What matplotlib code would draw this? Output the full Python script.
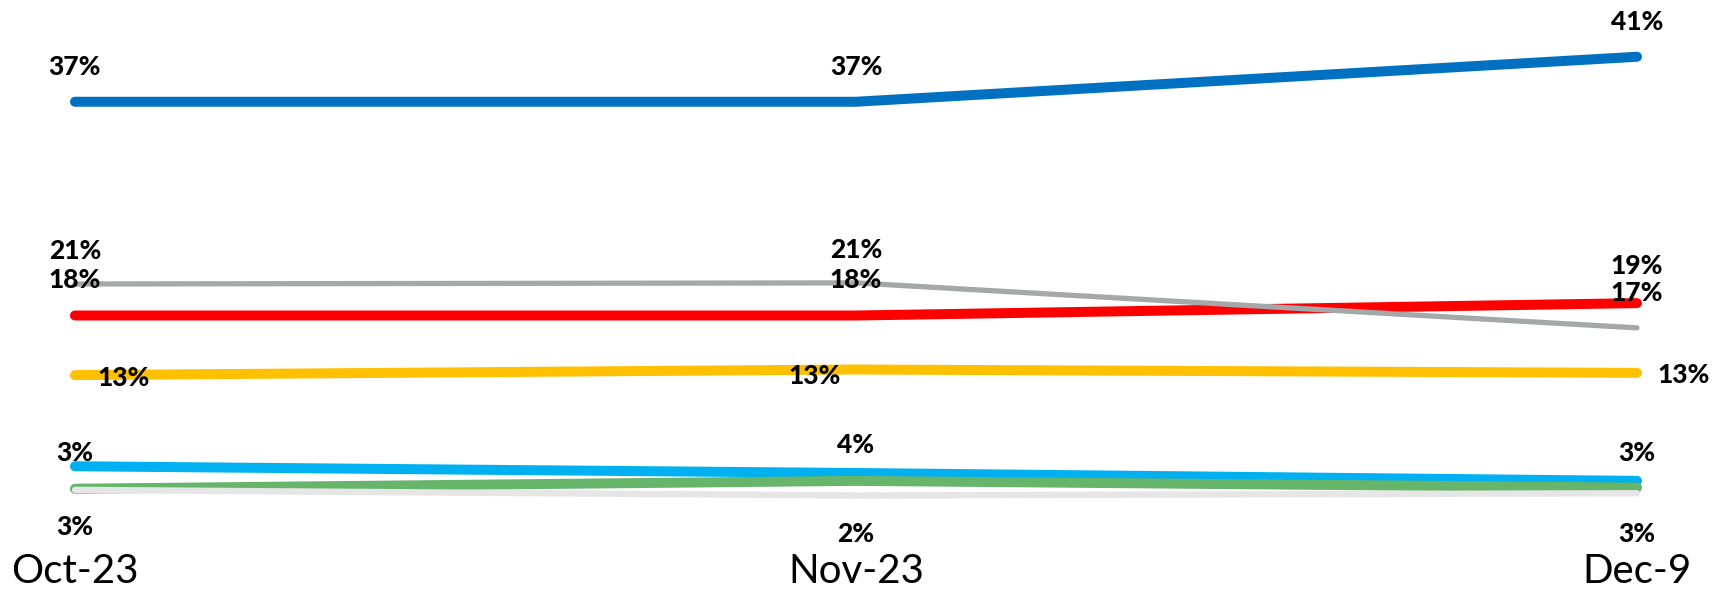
import matplotlib
matplotlib.use("Agg")
import matplotlib.pyplot as plt

months = ["Oct-23", "Nov-23", "Dec-9"]

# line values (percent)
blue = [37, 37, 41]
gray = [20.8, 20.9, 16.9]
red = [18, 18, 19.1]
yellow = [12.7, 13.2, 12.9]
cyan = [4.6, 4.0, 3.3]
green = [2.6, 3.3, 2.7]
light = [2.5, 2.0, 2.2]

# data labels as printed on the chart
blue_lbl = ["37%", "37%", "41%"]
gray_lbl = ["21%", "21%", "17%"]
red_lbl = ["18%", "18%", "19%"]
yellow_lbl = ["13%", "13%", "13%"]
cyan_lbl = ["3%", "4%", "3%"]
light_lbl = ["3%", "2%", "3%"]

plt.rcParams['font.family'] = ['Lato', 'DejaVu Sans']

fig = plt.figure(figsize=(17.19, 5.93), dpi=100)
ax = fig.add_axes([0, 48 / 593, 1, 545 / 593])

x = range(len(months))

series = [
    (cyan, "#00B0F0", 7.2, 2),
    (green, "#66B56B", 7.2, 3),
    (light, "#E7E6E6", 4.6, 4),
    (yellow, "#FFC000", 7.2, 5),
    (red, "#FF0000", 7.2, 6),
    (gray, "#A5A8A8", 3.8, 7),
    (blue, "#0070C0", 7.2, 8),
]
for vals, col, lw, z in series:
    ax.plot(x, vals, color=col, lw=lw, solid_capstyle="round", zorder=z)

# label offsets in pixels from each point
labels = [
    (blue, blue_lbl, [(0, 35), (0, 35), (0, 35)]),
    (gray, gray_lbl, [(0, 33), (0, 33), (0, 35)]),
    (red, red_lbl, [(0, 36), (0, 35), (0, 37)]),
    (yellow, yellow_lbl, [(49, -3), (-41, -6), (47, -2)]),
    (cyan, cyan_lbl, [(0, 13), (0, 28), (0, 28)]),
    (light, light_lbl, [(0, -37), (0, -39), (0, -41)]),
]
for vals, lbls, offs in labels:
    for i, (v, t, o) in enumerate(zip(vals, lbls, offs)):
        ax.annotate(t, (i, v), xytext=o, textcoords="offset pixels",
                    ha="center", va="center", fontsize=19,
                    fontweight="black", color="black", zorder=10)

ax.set_xlim(-0.096, 2.105)
ax.set_ylim((518 - 545) / 11.25, 518 / 11.25)
ax.set_xticks(list(x))
ax.set_xticklabels(months, fontsize=29)
ax.tick_params(axis="x", length=0, pad=6)
ax.set_yticks([])
for s in ax.spines.values():
    s.set_visible(False)

fig.savefig("out.png", dpi=100)
